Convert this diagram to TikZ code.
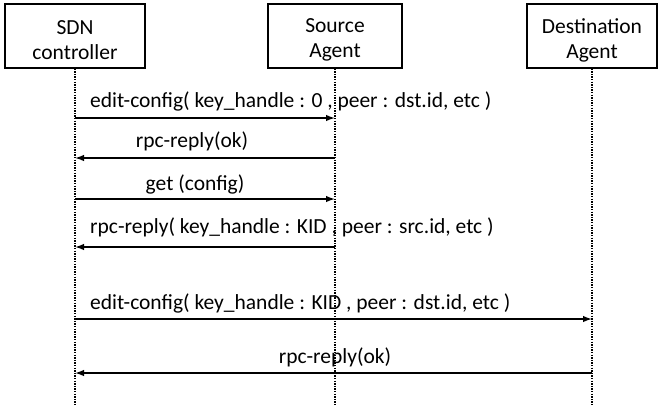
\documentclass[tikz,border=0pt]{standalone}
\usepackage{fontspec}
\setmainfont{Carlito}
\usetikzlibrary{arrows.meta}
\begin{document}
\begin{tikzpicture}[x=1pt,y=-1pt,
  actor/.style={draw, line width=1.3pt, minimum height=64pt, inner sep=0pt},
  actorlabel/.style={inner sep=0pt, align=center, font=\fontsize{21.5}{25}\selectfont},
  lifeline/.style={line width=1.3pt, dash pattern=on 1.3pt off 1.3pt},
  msg/.style={line width=1.4pt, -{Latex[length=9pt,width=6.5pt]}},
  lbl/.style={inner sep=0pt, font=\fontsize{21.5}{25}\selectfont}]
\useasboundingbox (0,0) rectangle (659,405);

% participants
\node[actor, minimum width=140pt] (sdn) at (75,36) {};
\node[actor, minimum width=134pt] (src) at (335,36) {};
\node[actor, minimum width=130pt] (dst) at (592,36) {};
\node[actorlabel] (sdnl) at ([yshift=-4pt]sdn.center) {SDN\\controller};
\node[actorlabel] (srcl) at ([yshift=-4pt]src.center) {Source\\Agent};
\node[actorlabel] (dstl) at ([yshift=-4pt]dst.center) {Destination\\Agent};

% lifelines
\coordinate (bottom) at (0,405);
\draw[lifeline] (sdn.south) -- (sdn.south |- bottom);
\draw[lifeline] (src.south) -- (src.south |- bottom);
\draw[lifeline] (dst.south) -- (dst.south |- bottom);

% message anchor points on the lifelines
\foreach \i/\y in {1/118,2/158,3/199,4/247,5/319,6/373}{
  \coordinate (y\i) at (0,\y);
  \coordinate (a\i) at (sdn.south |- y\i);
  \coordinate (b\i) at (src.south |- y\i);
  \coordinate (c\i) at (dst.south |- y\i);
}

% messages
\draw[msg] (a1) -- (b1);
\node[lbl, anchor=west] (t1) at (90,101) {edit-config( key\_handle : 0 , peer : dst.id, etc )};

\draw[msg] (b2) -- (a2);
\node[lbl] (t2) at (192,141) {rpc-reply(ok)};

\draw[msg] (a3) -- (b3);
\node[lbl] (t3) at (195,184) {get (config)};

\draw[msg] (b4) -- (a4);
\node[lbl, anchor=west] (t4) at (90,227) {rpc-reply( key\_handle : KID , peer : src.id, etc )};

\draw[msg] (a5) -- (c5);
\node[lbl, anchor=west] (t5) at (90,303) {edit-config( key\_handle : KID , peer : dst.id, etc )};

\draw[msg] (c6) -- (a6);
\node[lbl] (t6) at (335,357) {rpc-reply(ok)};
\end{tikzpicture}
\end{document}
